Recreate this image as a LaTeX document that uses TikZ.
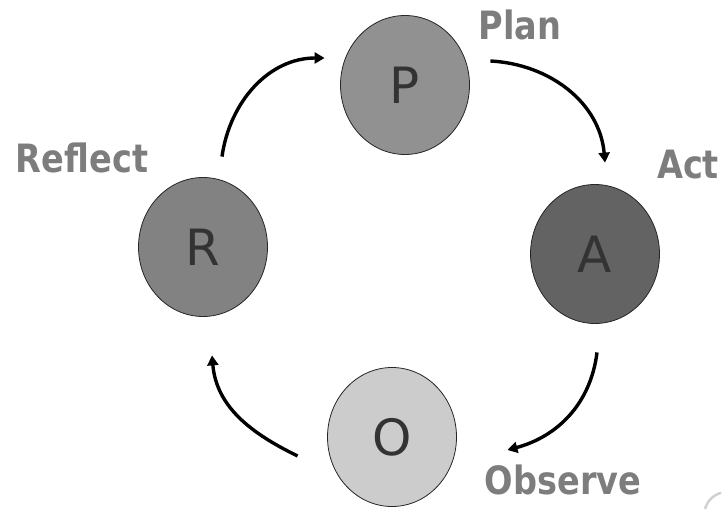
\documentclass[tikz,border=0pt]{standalone}
\usepackage{fontspec}
\setmainfont{Liberation Sans}
\newfontfamily\letterfont{DejaVu Sans}
\newfontfamily\tagfont[FakeStretch=0.86]{DejaVu Sans}
\usetikzlibrary{arrows.meta,shapes.geometric}

\begin{document}
\begin{tikzpicture}[x=1pt,y=1pt,
    stage/.style={ellipse, draw=black!85, line width=0.8pt, inner sep=0pt,
      minimum width=129pt, minimum height=139pt,
      font=\letterfont\fontsize{50}{60}\selectfont, text=black!80},
    tag/.style={font=\tagfont\bfseries\fontsize{39}{46}\selectfont, text=black!51},
    cycle/.style={line width=3.4pt, -{Triangle[length=10pt,width=11pt]}}]
  \useasboundingbox (0,0) rectangle (722,509);

  \node[stage, fill=black!43] (P) at (405,424) {P};
  \node[stage, fill=black!49] (R) at (203,262) {R};
  \node[stage, fill=black!61] (A) at (595,255) {A};
  \node[stage, fill=black!20] (O) at (392,72) {O};

  \node[tag] (plan) at (520,484) {Plan};
  \node[tag] (reflect) at (82,351) {Reflect};
  \node[tag] (act) at (688,344) {Act};
  \node[tag] (observe) at (563,29) {Observe};

  % the cycle, clockwise
  \draw[cycle] ([shift={(19,20.5)}]R.north) to[out=82, in=180] ([shift={(-15.5,27)}]P.west);
  \draw[cycle] ([shift={(20.5,24)}]P.east) to[out=-3, in=95] ([shift={(10,21.5)}]A.north);
  \draw[cycle] ([shift={(2,-28.5)}]A.south) to[out=-97, in=15] ([shift={(50.5,-13)}]O.east);
  \draw[cycle] ([shift={(-29.5,-19)}]O.west) to[out=154, in=-85] ([shift={(9,-38.5)}]R.south);

  \draw[black!18, line width=2.5pt] (705,0) arc[start angle=165, end angle=105, radius=23];
\end{tikzpicture}
\end{document}
